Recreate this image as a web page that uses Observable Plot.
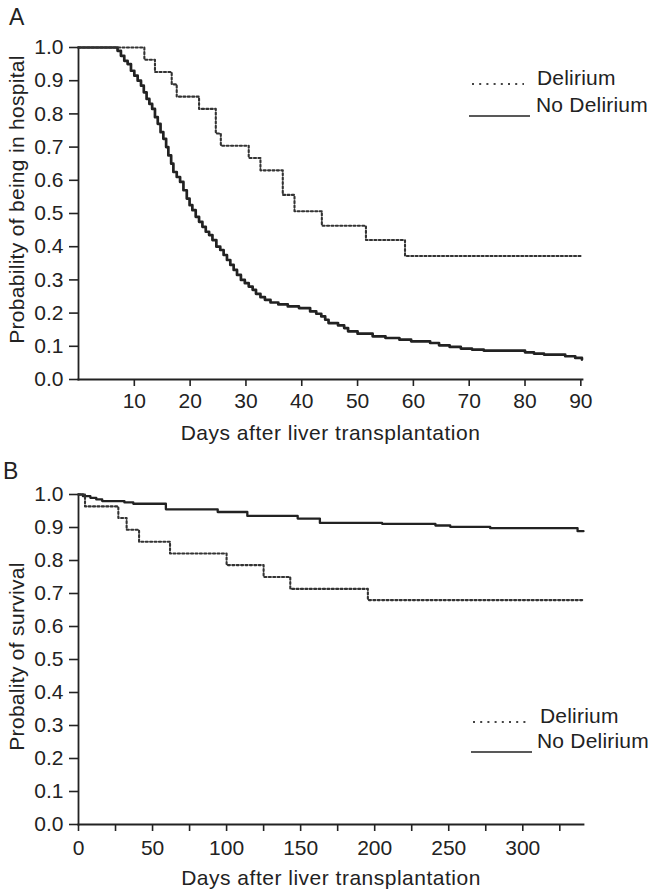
<!DOCTYPE html>
<html><head><meta charset="utf-8">
<script src="https://cdn.jsdelivr.net/npm/d3@7"></script>
<script src="https://cdn.jsdelivr.net/npm/@observablehq/plot@0.6"></script>
<style>
body{margin:0;background:#fff;}
#wrap{position:relative;width:657px;height:892px;font-family:"Liberation Sans",Arial,Helvetica,sans-serif;color:#222;overflow:hidden;}
.panel{position:absolute;left:0;}
.panel g[aria-label="x-axis label"] text{letter-spacing:0.5px;}
.panel g.ytitle text{letter-spacing:0.3px;}
.lbl{position:absolute;font-size:23px;line-height:1;}
.leg{position:absolute;font-size:21px;line-height:1;letter-spacing:0.2px;white-space:nowrap;}
.sample{position:absolute;left:0;top:0;}
</style></head><body><div id="wrap"></div>
<script>
// ---------- Panel A: probability of being in hospital ----------
const hospDeliriumDays = [0, 11.8, 13.7, 16.7, 17.6, 21.6, 24.6, 25.5, 30.5, 32.6, 36.6, 38.7, 43.6, 51.5, 58.5, 90.3];
const hospDeliriumP    = [1, 0.963, 0.926, 0.889, 0.852, 0.815, 0.741, 0.704, 0.667, 0.630, 0.556, 0.507, 0.463, 0.42, 0.372, 0.372];

const hospNoDeliriumDays = [0, 7.0, 7.6, 8.2, 8.8, 9.4, 10.0, 10.6, 11.2, 11.7, 12.2, 12.7, 13.2, 13.7, 14.2, 14.7, 15.2, 15.7, 16.1, 16.6, 17.0, 17.6, 18.2, 18.8, 19.4, 19.9, 20.4, 21.0, 21.6, 22.2, 22.8, 23.4, 24.0, 24.7, 25.4, 26.0, 26.6, 27.2, 27.8, 28.4, 29.1, 29.8, 30.5, 31.2, 31.8, 32.6, 33.4, 34.4, 35.8, 37.5, 39.5, 41.5, 42.6, 43.5, 44.2, 44.8, 46.5, 47.6, 48.3, 50.0, 52.7, 55.0, 57.5, 59.6, 63.0, 64.6, 66.5, 68.5, 70.5, 72.6, 80.0, 81.6, 83.4, 87.2, 89.0, 90.2];
const hospNoDeliriumP    = [1, 0.99, 0.975, 0.96, 0.95, 0.93, 0.915, 0.90, 0.885, 0.865, 0.845, 0.83, 0.815, 0.79, 0.77, 0.745, 0.725, 0.70, 0.675, 0.65, 0.625, 0.61, 0.595, 0.57, 0.545, 0.525, 0.51, 0.49, 0.475, 0.46, 0.445, 0.435, 0.42, 0.40, 0.39, 0.375, 0.36, 0.345, 0.33, 0.315, 0.30, 0.29, 0.28, 0.27, 0.258, 0.248, 0.24, 0.232, 0.226, 0.22, 0.215, 0.205, 0.198, 0.19, 0.18, 0.17, 0.163, 0.155, 0.145, 0.138, 0.13, 0.125, 0.12, 0.115, 0.11, 0.103, 0.098, 0.093, 0.09, 0.087, 0.082, 0.078, 0.075, 0.07, 0.065, 0.06];

const hospXTicks = [10, 20, 30, 40, 50, 60, 70, 80, 90];

// ---------- Panel B: probability of survival ----------
const survDeliriumDays = [0, 4.4, 26.9, 32.5, 40.9, 61.8, 100, 125, 143, 195.4, 341];
const survDeliriumP    = [1, 0.964, 0.929, 0.893, 0.857, 0.821, 0.786, 0.75, 0.714, 0.68, 0.68];

const survNoDeliriumDays = [0, 3, 8, 12, 16, 31, 37, 59, 94, 114, 148, 163, 205, 241, 251, 278, 337, 341];
const survNoDeliriumP    = [1, 0.995, 0.99, 0.985, 0.98, 0.976, 0.972, 0.955, 0.947, 0.935, 0.927, 0.914, 0.911, 0.906, 0.902, 0.898, 0.889, 0.889];

const survXTicksMajor = [0, 50, 100, 150, 200, 250, 300];
const survXTicksMinor = [25, 75, 125, 175, 225, 275, 325];

const yTicks = [0, 0.1, 0.2, 0.3, 0.4, 0.5, 0.6, 0.7, 0.8, 0.9, 1.0];
const seriesNames = ["Delirium", "No Delirium"];
const xTitle = "Days after liver transplantation";
const yTitleA = "Probability of being in hospital";
const yTitleB = "Probality of survival";

const toRows = (days, ps) => days.map((d, i) => ({day: d, p: ps[i]}));

const ink = "#222";
const FS = 21;
const style = {fontFamily: '"Liberation Sans", Arial, Helvetica, sans-serif', fontSize: FS + "px", color: ink, background: "white", overflow: "visible"};

function makePanel(o) {
  return Plot.plot({
    width: 657, height: o.height,
    marginTop: o.mt, marginBottom: o.mb, marginLeft: o.ml, marginRight: o.mr,
    x: {domain: o.xDomain},
    y: {domain: [0, 1]},
    style,
    marks: [
      Plot.axisY({ticks: yTicks, tickFormat: d3.format(".1f"), tickSize: 9, tickPadding: 6, fontSize: FS, strokeWidth: 1.6, label: null}),
      Plot.text([o.yTitle], {frameAnchor: "left", text: d => d, textAnchor: "middle", rotate: -90, dx: -61, dy: o.yShift, fontSize: FS, fill: ink, className: "ytitle"}),
      ...(o.xMinor ? [Plot.axisX({ticks: o.xMinor, tickSize: 7, tickFormat: () => "", strokeWidth: 1.6, label: null})] : []),
      Plot.axisX({ticks: o.xMajor, tickSize: 7, tickPadding: o.xPad, fontSize: FS, strokeWidth: 1.6,
        label: xTitle, labelAnchor: "center", labelOffset: 60, labelArrow: "none"}),
      Plot.frame({anchor: "left", stroke: ink, strokeWidth: 1.8}),
      Plot.frame({anchor: "bottom", stroke: ink, strokeWidth: 1.8}),
      Plot.line(o.solid, {x: "day", y: "p", curve: "step-after", stroke: ink, strokeWidth: o.solidW}),
      Plot.line(o.dotted, {x: "day", y: "p", curve: "step-after", stroke: "#333", strokeWidth: 2.1, strokeDasharray: "2.1,2.3"})
    ]
  });
}

const wrap = document.getElementById("wrap");

const svgA = makePanel({
  height: 445, mt: 47, mb: 66, ml: 78, mr: 75, xDomain: [0, 90.3],
  xMajor: hospXTicks, xMinor: null, xPad: 7, yTitle: yTitleA, yShift: -14, solidW: 2.7,
  solid: toRows(hospNoDeliriumDays, hospNoDeliriumP),
  dotted: toRows(hospDeliriumDays, hospDeliriumP)
});
svgA.classList.add("panel"); svgA.style.top = "0px";
wrap.appendChild(svgA);

const svgB = makePanel({
  height: 447, mt: 49, mb: 68, ml: 78, mr: 74, xDomain: [0, 341],
  xMajor: survXTicksMajor, xMinor: survXTicksMinor, xPad: 9, yTitle: yTitleB, yShift: -3, solidW: 2.3,
  solid: toRows(survNoDeliriumDays, survNoDeliriumP),
  dotted: toRows(survDeliriumDays, survDeliriumP)
});
svgB.classList.add("panel"); svgB.style.top = "445px";
wrap.appendChild(svgB);

// panel letters
function addDiv(cls, text, left, top) {
  const d = document.createElement("div");
  d.className = cls; d.textContent = text;
  d.style.left = left + "px"; d.style.top = top + "px";
  wrap.appendChild(d);
}
addDiv("lbl", "A", 9, 6);
addDiv("lbl", "B", 3, 460);

// legends
const ns = "http://www.w3.org/2000/svg";
const legSvg = document.createElementNS(ns, "svg");
legSvg.setAttribute("width", 657); legSvg.setAttribute("height", 892);
legSvg.setAttribute("class", "sample");
wrap.appendChild(legSvg);
function sample(x1, x2, y, dotted) {
  const l = document.createElementNS(ns, "line");
  l.setAttribute("x1", x1); l.setAttribute("x2", x2); l.setAttribute("y1", y); l.setAttribute("y2", y);
  l.setAttribute("stroke", dotted ? "#444" : ink);
  l.setAttribute("stroke-width", dotted ? 2 : 1.3);
  if (dotted) l.setAttribute("stroke-dasharray", "2,5.2");
  legSvg.appendChild(l);
}
// Panel A legend
sample(472, 524, 84, true);
sample(469, 530, 116, false);
addDiv("leg", seriesNames[0], 537, 67);
addDiv("leg", seriesNames[1], 536, 94);
// Panel B legend
sample(473, 526, 722, true);
sample(471, 532, 752, false);
addDiv("leg", seriesNames[0], 540, 705);
addDiv("leg", seriesNames[1], 537, 730);
</script></body></html>
